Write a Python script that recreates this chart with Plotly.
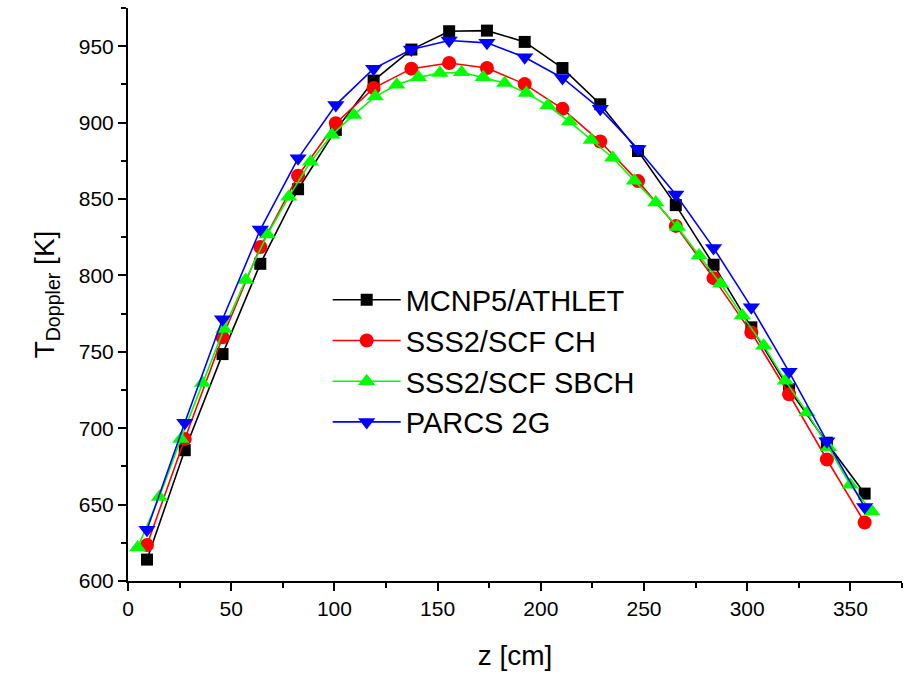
import plotly.graph_objects as go

# Axial positions (cm)
z_main = [9.2, 27.5, 45.8, 64.1, 82.4, 100.7, 119.0, 137.3, 155.6, 173.9,
          192.2, 210.5, 228.8, 247.1, 265.4, 283.7, 302.0, 320.3, 338.6, 356.9]
z_sbch = [4.7, 15.2, 25.6, 36.1, 46.5, 57.0, 67.5, 77.9, 88.4, 98.8,
          109.3, 119.8, 130.2, 140.7, 151.1, 161.6, 172.1, 182.5, 193.0, 203.4,
          213.9, 224.4, 234.8, 245.3, 255.7, 266.2, 276.7, 287.1, 297.6, 308.0,
          318.5, 329.0, 339.4, 349.9, 360.4]

# Doppler temperatures (K)
t_mcnp = [614, 685.6, 748.5, 807.6, 856.4, 895.2, 927.5, 947.8, 959.8, 960.2,
          952.8, 935.7, 912.0, 881.4, 846.0, 807.0, 766.0, 725.5, 690.5, 657.2]
t_ch = [623.6, 693.0, 759.5, 818.6, 865.2, 899.6, 922.6, 935.3, 939.0, 935.7,
        925.2, 909.0, 887.6, 861.7, 832.4, 798.2, 762.7, 722.2, 679.5, 638.3]
t_sbch = [622, 655, 693, 729.5, 765, 797, 826.7, 851.4, 874.4, 892,
          905, 917, 924.8, 929.6, 932.5, 933, 929.6, 925.9, 919.3, 911.2,
          900.7, 888.6, 877, 862, 847.7, 831.7, 813, 794.5, 773.7, 754,
          731, 710.2, 687.5, 663, 645.5]
t_parcs = [633.5, 703.6, 771.3, 830.0, 876.6, 911.6, 935.3, 947.8, 953.7, 952.2,
           942.8, 929.2, 909.0, 882.7, 853.0, 818.0, 779.2, 736.9, 691.5, 648.4]

names = ["MCNP5/ATHLET", "SSS2/SCF CH", "SSS2/SCF SBCH", "PARCS 2G"]

fig = go.Figure()
fig.add_trace(go.Scatter(x=z_main, y=t_mcnp, name=names[0], mode="lines+markers",
                         line=dict(color="#000000", width=1.6),
                         marker=dict(symbol="square", size=12, color="#000000")))
fig.add_trace(go.Scatter(x=z_main, y=t_ch, name=names[1], mode="lines+markers",
                         line=dict(color="#FF0000", width=1.6),
                         marker=dict(symbol="circle", size=14, color="#FF0000")))
fig.add_trace(go.Scatter(x=z_sbch, y=t_sbch, name=names[2], mode="lines+markers",
                         line=dict(color="#00FF00", width=1.6),
                         marker=dict(symbol="triangle-up", size=15, color="#00FF00")))
fig.add_trace(go.Scatter(x=z_main, y=t_parcs, name=names[3], mode="lines+markers",
                         line=dict(color="#0000FF", width=1.6),
                         marker=dict(symbol="triangle-down", size=15, color="#0000FF")))

axis_common = dict(
    showgrid=False, zeroline=False, showline=True, linecolor="black", linewidth=2,
    ticks="outside", ticklen=8, tickwidth=1.5, tickcolor="black",
    tickfont=dict(family="Liberation Sans, Arial", size=21, color="black"),
)

fig.update_layout(
    width=906, height=675,
    margin=dict(l=128, r=4, t=8, b=94),
    paper_bgcolor="white", plot_bgcolor="white",
    font=dict(family="Liberation Sans, Arial", color="black"),
    xaxis=dict(range=[0, 375], tickvals=[0, 50, 100, 150, 200, 250, 300, 350],
               minor=dict(tickvals=[25, 75, 125, 175, 225, 275, 325, 375],
                          ticks="outside", ticklen=5, tickwidth=1.5, tickcolor="black"),
               title=dict(text="z [cm]", font=dict(size=28), standoff=26),
               **axis_common),
    yaxis=dict(range=[600, 975], tickvals=[600, 650, 700, 750, 800, 850, 900, 950],
               minor=dict(tickvals=[625, 675, 725, 775, 825, 875, 925, 975],
                          ticks="outside", ticklen=5, tickwidth=1.5, tickcolor="black"),
               title=dict(text="T<sub>Doppler</sub> [K]", font=dict(size=28), standoff=16),
               **axis_common),
    legend=dict(x=0.258, y=0.535, xanchor="left", yanchor="top",
                font=dict(family="Liberation Sans, Arial", size=29, color="black"),
                bgcolor="rgba(0,0,0,0)", itemwidth=68, tracegroupgap=0),
    showlegend=True,
)

fig.write_html("out.html")
